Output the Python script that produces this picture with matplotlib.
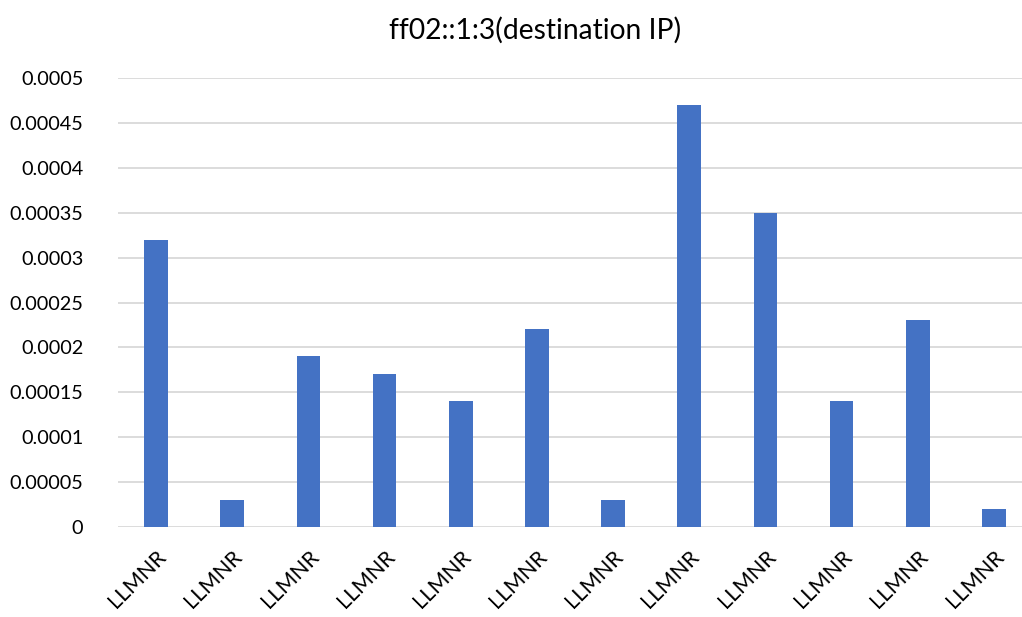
import matplotlib
matplotlib.use("Agg")
import matplotlib.pyplot as plt
import numpy as np

categories = ["LLMNR"] * 12
values = [0.00032, 0.00003, 0.00019, 0.00017, 0.00014, 0.00022,
          0.00003, 0.00047, 0.00035, 0.00014, 0.00023, 0.00002]
y_ticks = [0, 0.00005, 0.0001, 0.00015, 0.0002, 0.00025,
           0.0003, 0.00035, 0.0004, 0.00045, 0.0005]
y_tick_labels = ["0", "0.00005", "0.0001", "0.00015", "0.0002", "0.00025",
                 "0.0003", "0.00035", "0.0004", "0.00045", "0.0005"]
title = "ff02::1:3(destination IP)"

plt.rcParams["font.family"] = ["Lato", "DejaVu Sans"]

fig = plt.figure(figsize=(10.22, 6.17), dpi=100)
W, H = 1022, 617
left, right, top, bottom = 118, 1032, 78, 527
ax = fig.add_axes([left / W, (H - bottom) / H, (right - left) / W, (bottom - top) / H])

x = np.arange(len(values))
ax.bar(x, values, width=0.31, color="#4472C4", zorder=3)

ax.set_xlim(-0.5, len(values) - 0.5)
ax.set_ylim(0, 0.0005)
ax.set_yticks(y_ticks)
ax.set_yticklabels(y_tick_labels, fontsize=14.3, color="#000000")
ax.set_xticks(x)
ax.set_xticklabels(categories, fontsize=15.5, rotation=45, ha="right",
                   rotation_mode="anchor", color="#000000")
ax.tick_params(axis="both", length=0)
ax.tick_params(axis="y", pad=25)
ax.tick_params(axis="x", pad=14)

ax.yaxis.grid(True, color="#d9d9d9", linewidth=1.3, zorder=0)
for s in ax.spines.values():
    s.set_visible(False)

fig.text(535 / W, 1 - 30 / H, title, ha="center", va="center", fontsize=20.3, color="#000000")

fig.savefig("out.png", dpi=100)
